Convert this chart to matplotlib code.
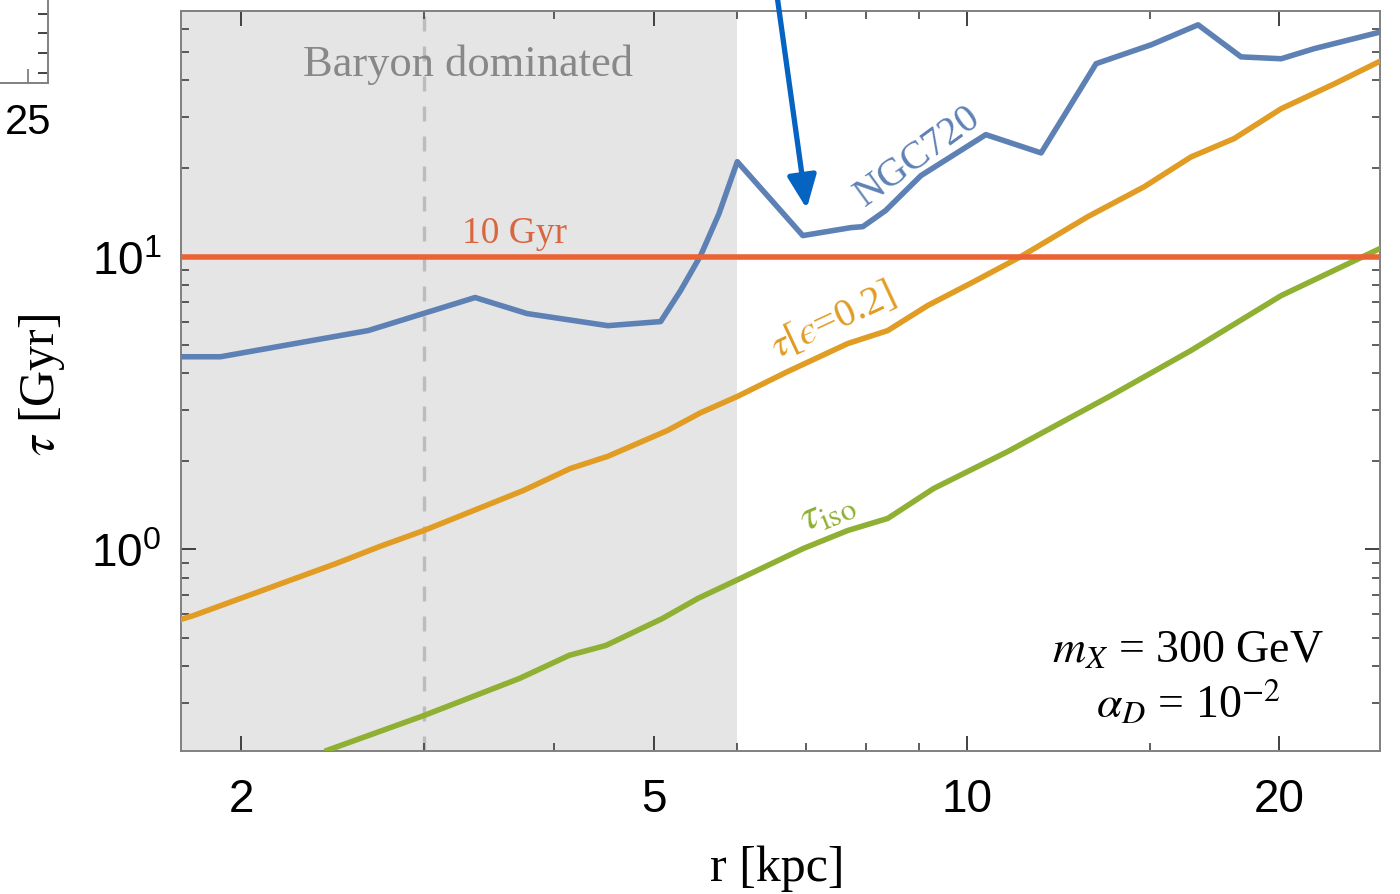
import numpy as np
import matplotlib
matplotlib.use('Agg')
import matplotlib.pyplot as plt
from matplotlib.ticker import FixedLocator, FixedFormatter, NullFormatter

plt.rcParams['font.family'] = ['Liberation Serif', 'DejaVu Serif']
plt.rcParams['mathtext.fontset'] = 'stix'

# NGC720 relaxation time curve
r_ngc = [1.75, 1.91, 2.65, 3.36, 3.77, 4.18, 4.51, 5.07, 5.30, 5.54, 5.77, 6.01,
         6.95, 7.73, 7.94, 8.35, 9.03, 10.43, 11.79, 13.32, 15.05, 16.7, 18.37,
         20.08, 21.6, 25.07]
tau_ngc = [4.55, 4.55, 5.59, 7.25, 6.39, 6.05, 5.81, 6.00, 7.66, 10.08, 14.0, 21.1,
           11.8, 12.56, 12.66, 14.36, 18.9, 26.1, 22.6, 45.6, 52.9, 61.9, 48.1,
           47.4, 51.3, 58.6]

# tau[eps=0.2]
r_eps = [1.75, 1.80, 2.47, 2.72, 3.00, 3.35, 3.74, 4.15, 4.51, 5.15, 5.54, 6.01,
         6.72, 7.68, 8.39, 9.17, 10.16, 11.27, 13.08, 14.81, 16.44, 18.09, 20.08,
         22.59, 25.07]
tau_eps = [0.577, 0.595, 0.896, 1.024, 1.161, 1.359, 1.59, 1.89, 2.08, 2.55, 2.93,
           3.33, 4.05, 5.05, 5.59, 6.81, 8.22, 10.0, 13.7, 17.3, 21.9, 25.3, 32.0,
           38.9, 46.7]

# tau_iso
r_iso = [2.42, 3.0, 3.71, 4.14, 4.49, 5.09, 5.51, 6.05, 6.96, 7.68, 8.39, 9.29,
         10.95, 12.13, 13.77, 16.44, 20.08, 25.2]
tau_iso = [0.206, 0.271, 0.363, 0.435, 0.470, 0.581, 0.681, 0.796, 1.008, 1.161,
           1.276, 1.615, 2.16, 2.63, 3.355, 4.78, 7.36, 10.8]

tau_age = 10.0      # Gyr
r_baryon = 6.0      # edge of baryon dominated region
r_dash = 3.0

x_lim = (1.75, 25.0)
y_lim = (0.205, 69.0)

c_blue = '#5e81b5'
c_orange = '#e19c24'
c_green = '#8fb032'
c_red = '#eb6235'
frame = '#808080'

fig = plt.figure(figsize=(14, 8.95), dpi=100)
ax = fig.add_axes([0.1293, 0.1598, 0.8564, 0.8268])
ax.set_xscale('log')
ax.set_yscale('log')
ax.set_xlim(*x_lim)
ax.set_ylim(*y_lim)

ax.axvspan(x_lim[0], r_baryon, color='#e5e5e5', lw=0, zorder=0)
ax.axvline(r_dash, color='#bcbcbc', lw=2.4, dashes=(4.5, 4.5), zorder=1)

ax.plot(r_ngc, tau_ngc, color=c_blue, lw=4, zorder=3)
ax.plot(r_eps, tau_eps, color=c_orange, lw=4, zorder=3)
ax.plot(r_iso, tau_iso, color=c_green, lw=4, zorder=3)
ax.axhline(tau_age, color=c_red, lw=4, zorder=4)

# ticks
ax.xaxis.set_major_locator(FixedLocator([2, 5, 10, 20]))
ax.xaxis.set_major_formatter(FixedFormatter(['2', '5', '10', '20']))
ax.xaxis.set_minor_locator(FixedLocator([3, 4, 6, 7, 8, 9, 15]))
ax.xaxis.set_minor_formatter(NullFormatter())
ax.yaxis.set_major_locator(FixedLocator([1, 10]))
ax.yaxis.set_major_formatter(FixedFormatter([r'$\mathregular{10^{0}}$',
                                             r'$\mathregular{10^{1}}$']))
ax.yaxis.set_minor_locator(FixedLocator([0.3, 0.4, 0.5, 0.6, 0.7, 0.8, 0.9,
                                         2, 3, 4, 5, 6, 7, 8, 9,
                                         20, 30, 40, 50, 60]))
ax.yaxis.set_minor_formatter(NullFormatter())
ax.tick_params(which='both', direction='in', top=True, right=True, colors='#333333')
ax.tick_params(which='major', length=11, width=1.3)
ax.tick_params(which='minor', length=6, width=1.1)
ax.tick_params(axis='x', which='major', pad=19)
ax.tick_params(axis='y', which='major', pad=14)
for lab in ax.get_xticklabels() + ax.get_yticklabels():
    lab.set_fontfamily('Liberation Sans')
    lab.set_fontsize(33)
    lab.set_color('black')
for s in ax.spines.values():
    s.set_color(frame)
    s.set_linewidth(1.4)

# labels
fig.text(777 / 1400, 1 - 869 / 895, 'r [kpc]', fontsize=36, ha='center', va='center')
fig.text(42 / 1400, 1 - 385 / 895, r'$\tau$ [Gyr]', fontsize=36, rotation=90,
         ha='center', va='center')

ax.text(3.31, 45.6, 'Baryon dominated', fontsize=32, color='#888888',
        ha='center', va='center', zorder=5)
ax.text(3.67, 11.25, '10 Gyr', fontsize=27, color='#d9663f', ha='center',
        va='baseline', zorder=5)
ax.text(8.97, 22.1, 'NGC720', fontsize=29, color=c_blue, rotation=36,
        rotation_mode='anchor', ha='center', va='center', zorder=5)
ax.text(7.43, 6.05, '$\\tau$[$\u03f5$=0.2]', fontsize=29, color=c_orange,
        rotation=25, rotation_mode='anchor', ha='center', va='center', zorder=5)
ax.text(7.33, 1.36, r'$\tau_{\rm iso}$', fontsize=32, color=c_green,
        rotation=22, rotation_mode='anchor', ha='center', va='center', zorder=5)
ax.text(0.84, 0.1216, r'$m_X$ = 300 GeV', fontsize=33, transform=ax.transAxes,
        ha='center', va='baseline')
ax.text(0.84, 0.0459, r'$\alpha_D$ = 10$^{-2}$', fontsize=33, transform=ax.transAxes,
        ha='center', va='baseline')

# arrow coming from the panel above
ax.annotate('', xy=(7.01, 14.58), xytext=(776 / 1400, 1.012),
            textcoords='figure fraction', annotation_clip=False,
            arrowprops=dict(arrowstyle='-|>,head_length=0.5,head_width=0.22',
                            color='#0563c1', lw=3.8, mutation_scale=40,
                            shrinkA=0, shrinkB=0))

# fragment of neighbouring panel (top-left corner)
ax2 = fig.add_axes([-200 / 1400, 1 - 84 / 895, 248 / 1400, 300 / 895])
ax2.set_xlim(0, 27.19)
ax2.set_ylim(0, 300)
ax2.spines['top'].set_visible(False)
ax2.spines['left'].set_visible(False)
for s in ('right', 'bottom'):
    ax2.spines[s].set_color(frame)
    ax2.spines[s].set_linewidth(1.4)
ax2.set_xticks([25])
ax2.set_xticklabels(['25'], fontfamily='Liberation Sans', fontsize=30)
ax2.set_yticks([10, 30, 50, 69])
ax2.set_yticklabels([])
ax2.tick_params(axis='x', direction='in', length=10, width=1.3, colors=frame,
                labelcolor='black', pad=14)
ax2.tick_params(axis='y', direction='in', left=False, right=True, length=7,
                width=1.3, colors='#333333')
ax2.patch.set_visible(False)

fig.savefig('out.png', dpi=100)
